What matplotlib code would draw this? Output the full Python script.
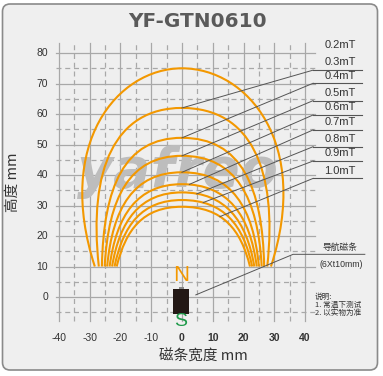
import numpy as np
import matplotlib
matplotlib.use("Agg")
import matplotlib.pyplot as plt
from matplotlib.path import Path
from matplotlib.patches import PathPatch, FancyBboxPatch, Rectangle

# field strength contours
levels = ["0.2mT", "0.3mT", "0.4mT", "0.5mT", "0.6mT", "0.7mT", "0.8mT", "0.9mT", "1.0mT"]
peak_h = [75, 62, 52.2, 46.3, 40.9, 37.0, 34.3, 31.8, 29.6]
left_end = [-28.3, -27.0, -26.0, -25.1, -24.3, -23.5, -22.7, -21.9, -21.2]
right_end = [28.9, 27.7, 26.7, 25.9, 25.0, 24.3, 23.5, 22.8, 22.1]
bulge = [13, 3.5, -0.5, -1.2, -1.8, -2.2, -2.5, -2.8, -3]
fullness = [0.74, 0.8, 0.72, 0.68, 0.65, 0.62, 0.6, 0.6, 0.6]
foot_y = 10

# labels on the right and where their leaders touch the curves
label_y = [80, 74.4, 70.1, 64.4, 59.7, 54.8, 49.3, 44.6, 38.9]
leader_x = [None, 0, 0, 0, 0, 2.4, 4.8, 6.9, 12.3]

xticks = [-40, -30, -20, -10, 0, 10, 20, 30, 40]
yticks = [0, 10, 20, 30, 40, 50, 60, 70, 80]

orange = "#f39800"
grid_c = "#a8a8a8"
text_c = "#333333"

fig = plt.figure(figsize=(3.83, 3.76), dpi=100)
ax = fig.add_axes([0, 0, 1, 1])
ax.set_xlim(-59.1, 65.3)
ax.set_ylim(-25.9, 97.4)
ax.axis("off")

# panel
panel = FancyBboxPatch((2.5 / 383, 6 / 376), 375 / 383, 366 / 376,
                       boxstyle="round,pad=0,rounding_size=0.02",
                       transform=ax.transAxes, facecolor="#efefef",
                       edgecolor="#8a8a8a", lw=1.2, zorder=0)
ax.add_patch(panel)

# grid
for x in range(-40, 41, 5):
    ls = "-" if x % 10 == 0 else (0, (4, 3))
    ax.plot([x, x], [-8, 83.4], color=grid_c, lw=0.9, ls=ls, zorder=1)
for y in range(-5, 81, 5):
    ls = "-" if y % 10 == 0 else (0, (4, 3))
    x1 = 18.5 if y == 0 else 43.2
    ax.plot([-41, x1], [y, y], color=grid_c, lw=0.9, ls=ls, zorder=1)

# watermark
ax.text(-1.6, 41.0, "yafreo", fontsize=40, fontweight="heavy", style="italic",
        color="#bdbdbd", ha="center", va="center", zorder=2)

k1 = 0.62
paths = []
for h, xl, xr, b, k2 in zip(peak_h, left_end, right_end, bulge, fullness):
    ym = foot_y + k1 * (h - foot_y)
    verts = [(xl, foot_y), (xl - b, ym), (k2 * xl, h), (0, h),
             (k2 * xr, h), (xr + b, ym), (xr, foot_y)]
    codes = [Path.MOVETO] + [Path.CURVE4] * 6
    p = Path(verts, codes)
    paths.append(p)
    ax.add_patch(PathPatch(p, facecolor="none", edgecolor=orange, lw=1.5, zorder=3))

# labels and leaders
for i, (lab, ly) in enumerate(zip(levels, label_y)):
    ax.text(51.3, ly + 0.9, lab, fontsize=8, color=text_c, ha="center", va="bottom",
            family="Liberation Sans", zorder=5)
    if leader_x[i] is None:
        continue
    ax.plot([42.6, 58.4], [ly, ly], color="#555555", lw=0.8, zorder=4)
    pts = paths[i].to_polygons(closed_only=False)[0]
    sel = (pts[:, 0] >= 0) & (pts[:, 1] > (peak_h[i] + foot_y) / 2)
    arc = pts[sel]
    arc = arc[np.argsort(arc[:, 0])]
    ty = np.interp(leader_x[i], arc[:, 0], arc[:, 1])
    ax.plot([42.6, leader_x[i]], [ly, ty], color="#555555", lw=0.7, zorder=4)

# magnet strip
ax.add_patch(Rectangle((-3.0, -5.6), 5.3, 8.2, facecolor="#231815", edgecolor="none", zorder=4))
ax.add_patch(Rectangle((-0.8, 2.6), 1.4, 0.6, facecolor="#888888", edgecolor="none", zorder=4))
ax.text(-0.4, 7.2, "N", fontsize=16, color=orange, ha="center", va="center",
        family="Liberation Sans", zorder=5)
ax.text(-0.4, -8.1, "S", fontsize=14, color="#1f9a4a", ha="center", va="center",
        family="Liberation Sans", zorder=5)
ax.plot([4.5, 36.1, 59.4], [0.7, 14.0, 14.0], color="#555555", lw=0.7, zorder=4)
ax.text(51.3, 14.9, "导航磁条", fontsize=6.3, color=text_c, ha="center", va="bottom",
        family=["Noto Sans CJK SC", "DejaVu Sans"], zorder=5)
ax.text(51.8, 10.8, "(6Xt10mm)", fontsize=6.3, color=text_c, ha="center", va="center",
        family="Liberation Sans", zorder=5)
ax.text(43.2, 1.2, "说明:\n1. 常温下测试\n2. 以实物为准", fontsize=5.5, color=text_c,
        ha="left", va="top", linespacing=0.95,
        family=["Noto Sans CJK SC", "DejaVu Sans"], zorder=5)

# tick labels
for x in xticks:
    ax.text(x, -13.3, str(x), fontsize=7.5, color=text_c, ha="center", va="center",
            fontweight="bold" if x >= 0 else "normal", family="Liberation Sans")
for y in yticks:
    ax.text(-43.5, y, str(y), fontsize=7.5, color=text_c, ha="right", va="center",
            family="Liberation Sans")

ax.text(6.8, -19.6, "磁条宽度 mm", fontsize=10.5, color=text_c, ha="center", va="center",
        family=["Noto Sans CJK SC", "DejaVu Sans"])
ax.text(-55.0, 37.7, "高度 mm", fontsize=10.5, color=text_c, ha="center", va="center",
        rotation=90, family=["Noto Sans CJK SC", "DejaVu Sans"])
ax.text(5.2, 90.3, "YF-GTN0610", fontsize=14.4, fontweight="bold", color="#5a5a5a",
        ha="center", va="center")

fig.savefig("out.png", dpi=100, facecolor="white")
